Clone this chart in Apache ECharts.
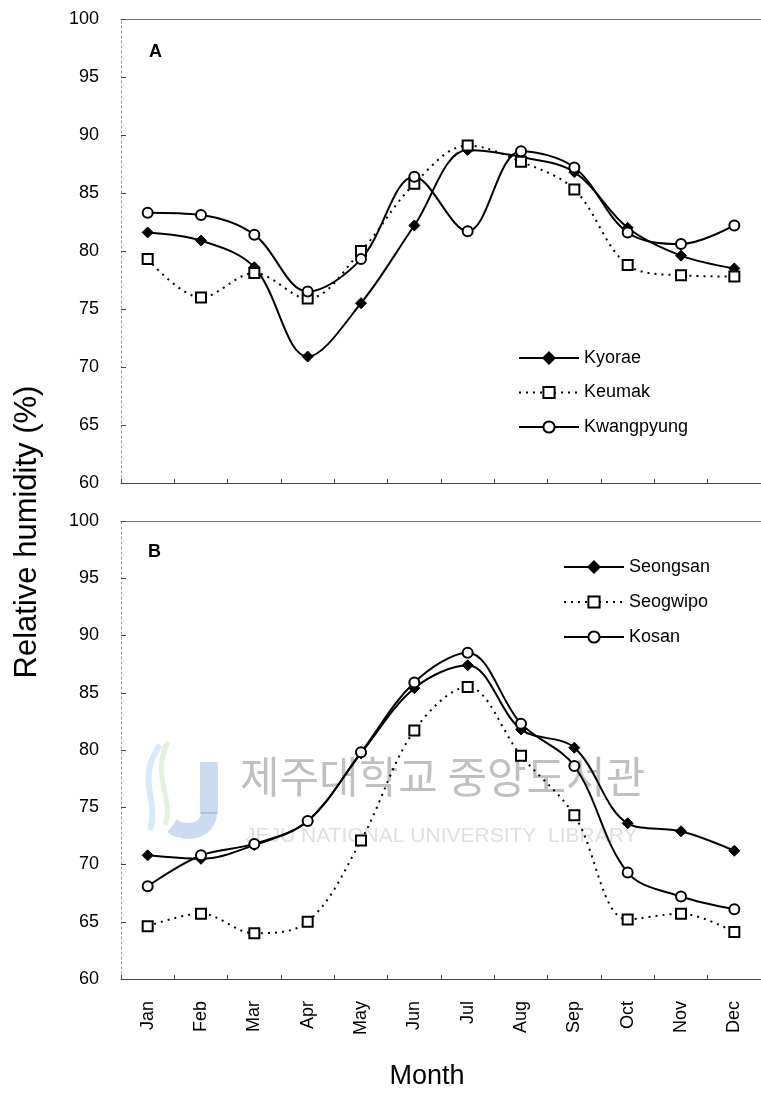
<!DOCTYPE html>
<html><head><meta charset="utf-8">
<script src="https://cdn.jsdelivr.net/npm/echarts@6/dist/echarts.min.js"></script>
<style>html,body{margin:0;padding:0;background:#fff}#c{width:761px;height:1095px}</style>
</head><body><div id="c"></div>
<script>
const months = ['Jan','Feb','Mar','Apr','May','Jun','Jul','Aug','Sep','Oct','Nov','Dec'];
const yTicks = [60,65,70,75,80,85,90,95,100];
// Panel A
const kyorae     = [81.6, 80.9, 78.6, 70.9, 75.5, 82.2, 88.7, 88.1, 86.8, 82.0, 79.6, 78.5];
const keumak     = [79.3, 76.0, 78.1, 75.9, 80.0, 85.8, 89.1, 87.7, 85.3, 78.8, 77.9, 77.8];
const kwangpyung = [83.3, 83.1, 81.4, 76.5, 79.3, 86.4, 81.7, 88.6, 87.2, 81.6, 80.6, 82.2];
// Panel B
const seongsan   = [70.8, 70.5, 71.7, 73.8, 79.7, 85.4, 87.4, 81.8, 80.2, 73.6, 72.9, 71.2];
const seogwipo   = [64.6, 65.7, 64.0, 65.0, 72.1, 81.7, 85.5, 79.5, 74.3, 65.2, 65.7, 64.1];
const kosan      = [68.1, 70.8, 71.8, 73.8, 79.8, 85.9, 88.5, 82.3, 78.6, 69.3, 67.2, 66.1];

const FONT = 'Liberation Sans, Arial, sans-serif';
const chart = echarts.init(document.getElementById('c'));

function xBottom(gi, showLabels){
  return {type:'category', gridIndex:gi, data:months, boundaryGap:true, position:'bottom',
    axisLine:{show:true, lineStyle:{color:'#444', width:1}},
    axisTick:{show:true, inside:true, length:4, lineStyle:{color:'#444'}},
    axisLabel:{show:showLabels, rotate:90, margin:22, fontSize:18, color:'#000', fontFamily:FONT},
    splitLine:{show:false}};
}
function xTop(gi){
  return {type:'category', gridIndex:gi, data:months, position:'top',
    axisLine:{show:true, lineStyle:{color:'#777', width:1}},
    axisTick:{show:false}, axisLabel:{show:false}, splitLine:{show:false}};
}
function yAx(gi){
  return {type:'value', gridIndex:gi, min:yTicks[0], max:yTicks[yTicks.length-1], interval:5,
    axisLine:{show:true, lineStyle:{color:'#999', width:1, type:[2,3]}},
    axisTick:{show:true, inside:true, length:5, lineStyle:{color:'#444'}},
    axisLabel:{margin:22, fontSize:18, color:'#000', fontFamily:FONT,
      formatter:v => yTicks.includes(v) ? String(v) : ''},
    splitLine:{show:false}};
}
function ser(name, data, gi, kind){
  const base = {name, type:'line', data, smooth:0.35, xAxisIndex:gi*2, yAxisIndex:gi,
    symbolSize:9, z:3};
  if(kind==='diamond'){
    Object.assign(base,{symbol:'diamond', symbolSize:11,
      lineStyle:{color:'#000', width:2, type:'solid'},
      itemStyle:{color:'#000', borderColor:'#000', borderWidth:1}});
  } else if(kind==='square'){
    Object.assign(base,{symbol:'rect', symbolSize:10,
      lineStyle:{color:'#000', width:2, type:[2,5]},
      itemStyle:{color:'#fff', borderColor:'#000', borderWidth:2}});
  } else {
    Object.assign(base,{symbol:'circle', symbolSize:10,
      lineStyle:{color:'#000', width:2, type:'solid'},
      itemStyle:{color:'#fff', borderColor:'#000', borderWidth:2}});
  }
  return base;
}
function legend(names, left, top, gap){
  return {data:names, orient:'vertical', left, top, itemWidth:60, itemHeight:14, itemGap:gap,
    textStyle:{fontSize:18, color:'#000', fontFamily:FONT, lineHeight:18}, selectedMode:false};
}

chart.setOption({
  animation:false,
  backgroundColor:'#fff',
  grid:[{left:121, right:0, top:19, height:464}, {left:121, right:0, top:521, height:458}],
  xAxis:[xBottom(0,false), xTop(0), xBottom(1,true), xTop(1)],
  yAxis:[yAx(0), yAx(1)],
  legend:[legend(['Kyorae','Keumak','Kwangpyung'], 513, 344, 16.5), legend(['Seongsan','Seogwipo','Kosan'], 558, 553, 17)],
  series:[
    ser('Kyorae', kyorae, 0, 'diamond'),
    ser('Keumak', keumak, 0, 'square'),
    ser('Kwangpyung', kwangpyung, 0, 'circle'),
    ser('Seongsan', seongsan, 1, 'diamond'),
    ser('Seogwipo', seogwipo, 1, 'square'),
    ser('Kosan', kosan, 1, 'circle')
  ],
  graphic:[
    // watermark (library stamp)
    {type:'bezierCurve', z:0, shape:{x1:160,y1:745,cpx1:135,cpy1:780,cpx2:160,cpy2:800,x2:150,y2:830},
      style:{stroke:'rgba(120,190,230,0.3)', lineWidth:6, fill:null}},
    {type:'bezierCurve', z:0, shape:{x1:168,y1:742,cpx1:150,cpy1:775,cpx2:175,cpy2:800,x2:165,y2:825},
      style:{stroke:'rgba(170,210,140,0.3)', lineWidth:5, fill:null}},
    {type:'rect', z:0, shape:{x:200,y:762,width:18,height:52}, style:{fill:'rgba(120,160,215,0.38)'}},
    {type:'bezierCurve', z:0, shape:{x1:209,y1:812,cpx1:209,cpy1:832,cpx2:185,cpy2:835,x2:172,y2:826},
      style:{stroke:'rgba(120,160,215,0.38)', lineWidth:16, fill:null}},
    {type:'text', x:240, y:777, z:0,
      style:{text:'제주대학교 중앙도서관', font:'43px Noto Sans CJK KR', fill:'rgba(130,130,130,0.5)', verticalAlign:'middle'}},
    {type:'text', x:245, y:836, z:0,
      style:{text:'JEJU NATIONAL UNIVERSITY  LIBRARY', font:'21px '+FONT, fill:'rgba(150,150,150,0.3)', verticalAlign:'middle'}},
    // panel labels and axis titles
    {type:'text', left:149, top:43, z:10, style:{text:'A', font:'bold 18px '+FONT, fill:'#000'}},
    {type:'text', left:148, top:543, z:10, style:{text:'B', font:'bold 18px '+FONT, fill:'#000'}},
    {type:'text', x:27, y:532, rotation:Math.PI/2, z:10,
      style:{text:'Relative humidity (%)', font:'31px '+FONT, fill:'#000', align:'center', verticalAlign:'middle'}},
    {type:'text', x:427, y:1077, z:10,
      style:{text:'Month', font:'27px '+FONT, fill:'#000', align:'center', verticalAlign:'middle'}}
  ]
});
</script></body></html>
